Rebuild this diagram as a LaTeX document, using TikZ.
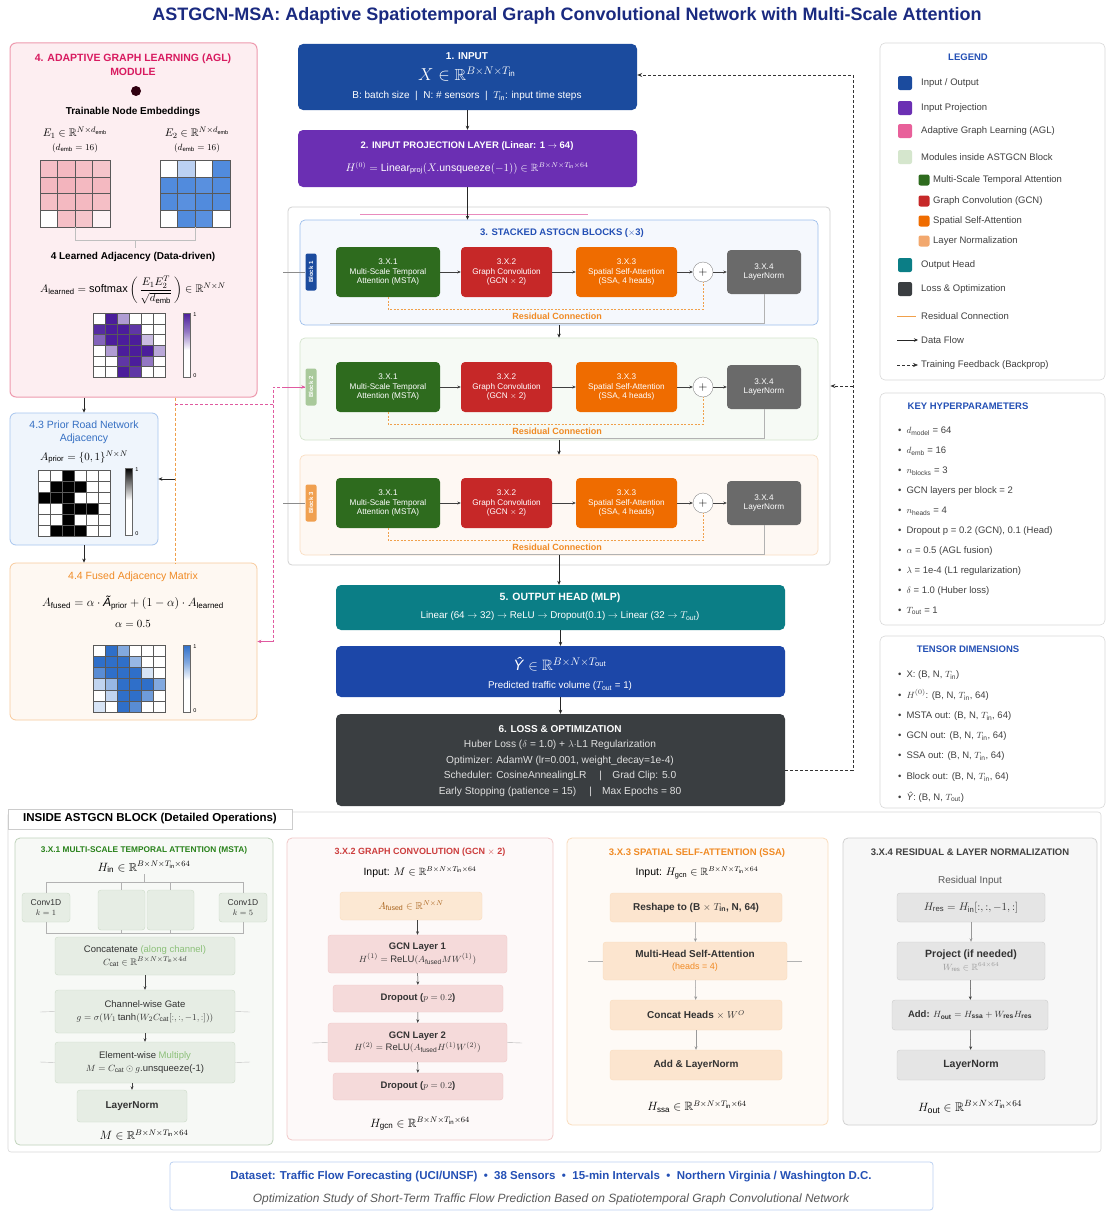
\documentclass[tikz,border=0pt]{standalone}
\usepackage{fontspec}
\setmainfont{Liberation Sans}
\usepackage{amsmath,amssymb}
\usetikzlibrary{arrows.meta,calc}
\definecolor{cTitle}{HTML}{1A2A80}
\definecolor{cIn}{HTML}{1B4B9E}
\definecolor{cProj}{HTML}{6B2FB3}
\definecolor{cAGL}{HTML}{E8609A}
\definecolor{cAGLt}{HTML}{D81B60}
\definecolor{cAGLf}{HTML}{FDEEF1}
\definecolor{cAGLb}{HTML}{EE9AAE}
\definecolor{cMSTA}{HTML}{2E6B1E}
\definecolor{cGCN}{HTML}{C62828}
\definecolor{cSSA}{HTML}{EF6C00}
\definecolor{cLN}{HTML}{6A6A6A}
\definecolor{cLNleg}{HTML}{F2A86E}
\definecolor{cModLeg}{HTML}{D5E6CD}
\definecolor{cHead}{HTML}{0B7E86}
\definecolor{cOut}{HTML}{1C47A8}
\definecolor{cLoss}{HTML}{3A3E41}
\definecolor{cBlueT}{HTML}{2450B5}
\definecolor{cRes}{HTML}{F0A04B}
\definecolor{cPk}{HTML}{E05AA0}
\definecolor{cB2}{HTML}{A9C99B}
\definecolor{cB3}{HTML}{F0A050}
\definecolor{cPinkM}{HTML}{EC8A98}
\definecolor{cBlueM}{HTML}{3C7DD9}
\definecolor{cPurM}{HTML}{4B1D9B}
\definecolor{cFusM}{HTML}{2F6FC9}
\definecolor{cLG}{HTML}{8CC079}
\definecolor{cOr}{HTML}{F08A24}
\newcommand\RR{\mathbb{R}}
\newcommand\tx[1]{\text{#1}}
\newcommand\fs[1]{\fontsize{#1}{#1}\selectfont}
\newcommand\mybox[7]{\node[#6, inner sep=1pt, minimum width={(#4-#2)*1pt}, minimum height={(#5-#3)*1pt}] (#1) at ({(#2+#4)/2},{(#3+#5)/2}) {#7};}
\newcommand\mymatrix[7]{%
  \foreach \v [count=\k from 0] in {#7}{%
    \pgfmathtruncatemacro\mc{mod(\k,#5)}%
    \pgfmathtruncatemacro\mr{div(\k,#5)}%
    \pgfmathtruncatemacro\pc{\v*100}%
    \filldraw[fill=#6!\pc!white, draw=black!65, line width=0.4pt] ({#1+\mc*#3},{#2+\mr*#4}) rectangle ++(#3,#4);
  }}
\tikzset{
  every node/.style={font=\fontsize{9}{11}\selectfont, inner sep=1pt},
  arr/.style={-{Stealth[length=4pt,width=3.5pt]}, line width=0.6pt, draw=black!85},
  sarr/.style={-{Stealth[length=3.5pt,width=3pt]}, line width=0.5pt, draw=black!75},
  fbk/.style={-{Stealth[length=5pt,width=4pt]}, line width=0.8pt, draw=black!80, dash pattern=on 3pt off 2pt},
  resid/.style={draw=cRes, line width=0.6pt, dash pattern=on 2pt off 1.5pt},
  pdash/.style={draw=cPk, line width=0.8pt, dash pattern=on 3pt off 2pt},
  odash/.style={draw=cRes, line width=0.7pt, dash pattern=on 3pt off 2pt},
  panel/.style={draw=black!15, fill=white, rounded corners=5pt, line width=0.6pt},
  big/.style={rounded corners=5pt, text=white, align=center},
  mod/.style={rounded corners=4pt, text=white, align=center, font=\fontsize{8.2}{9.8}\selectfont},
  ibox/.style={rounded corners=3pt, align=center, font=\fontsize{9.5}{12.5}\selectfont, text=black!80},
  legsq/.style={rounded corners=2pt, minimum size=14pt, inner sep=0pt},
  subsq/.style={rounded corners=2pt, minimum size=11pt, inner sep=0pt},
  legtx/.style={anchor=west, text=black!75, font=\fontsize{9.5}{11}\selectfont},
  htx/.style={anchor=west, text=black!75, font=\fontsize{9.5}{11}\selectfont},
  ptitle/.style={font=\bfseries\fontsize{9}{11}\selectfont},
}
\begin{document}
\begin{tikzpicture}[x=1pt,y=-1pt]
\useasboundingbox (0,0) rectangle (1107,1215);
\fill[white] (0,0) rectangle (1107,1215);

% ---------- title
\node[font=\bfseries\fontsize{18}{21}\selectfont, text=cTitle] (title) at (567,16) {ASTGCN-MSA: Adaptive Spatiotemporal Graph Convolutional Network with Multi-Scale Attention};

% ---------- AGL module
\mybox{agl}{10}{43}{257}{397}{draw=cAGLb, fill=cAGLf, rounded corners=6pt, line width=1pt}{}
\node[text=cAGLt, font=\bfseries\fontsize{10.5}{14}\selectfont, align=center] (aglT) at (133,65) {4. ADAPTIVE GRAPH LEARNING (AGL)\\MODULE};
\fill[black!75!purple] (136,91) circle (5);
\node[font=\bfseries\fs{10}] (tne) at (133,112) {Trainable Node Embeddings};
\node[font=\fs{11}] (e1) at (75,133) {$E_1 \in \RR^{N\times d_{\tx{emb}}}$};
\node[font=\fs{9}] (e1b) at (75,148) {$(d_{\tx{emb}}=16)$};
\node[font=\fs{11}] (e2) at (197,133) {$E_2 \in \RR^{N\times d_{\tx{emb}}}$};
\node[font=\fs{9}] (e2b) at (197,148) {$(d_{\tx{emb}}=16)$};
\mymatrix{40}{160}{17.5}{16.75}{4}{cPinkM}{.55,.6,.55,.5,.6,.65,.6,.6,.55,.6,.6,.55,0,.55,.5,.1}
\mymatrix{160}{160}{17.5}{16.75}{4}{cBlueM}{0,.35,0,.9,.9,.9,.85,.9,.9,.85,.9,.9,0,.9,.85,0}
\draw[black!25, line width=0.4pt] (75,227) -- (75,240) -- (195,240) -- (195,227);
\draw[black!25, line width=0.4pt] (135,240) -- (135,248);
\node[font=\bfseries\fs{10}] (lad) at (133,257) {4 Learned Adjacency (Data-driven)};
\node[font=\fs{11}, inner sep=0pt] (ladf) at (133,290) {$A_{\tx{learned}} = \mathrm{softmax}\left(\,\dfrac{E_1E_2^{T}\rule[-3pt]{0pt}{3pt}}{\rule{0pt}{10pt}\sqrt{d_{\tx{emb}}}}\,\right) \in \RR^{N\times N}$};
\mymatrix{93}{313}{12}{10.7}{6}{cPurM}{0,1,.45,0,0,0,.95,1,1,.9,0,0,.7,1,1,1,.3,0,0,.45,1,1,1,.4,0,0,.9,1,.6,0,0,0,1,.9,0,0}
\shade[top color=cPurM, bottom color=white, middle color=cPurM!60] (183,313) rectangle (190,350);
\fill[white] (183,350) rectangle (190,377);
\draw[black!60, line width=0.4pt] (183,313) rectangle (190,377);
\node[font=\fs{5.5}] (cb1a) at (195,315) {1};
\node[font=\fs{5.5}] (cb1b) at (195,376) {0};

% ---------- 4.3 prior
\mybox{prior}{10}{413}{158}{545}{draw=cBlueM!45, fill=cBlueM!8, rounded corners=6pt, line width=0.8pt}{}
\node[text=cBlueM!90!black, align=center, font=\fontsize{10.5}{13}\selectfont] (priorT) at (84,432) {4.3 Prior Road Network\\Adjacency};
\node[font=\fs{11}] (priorF) at (84,457) {$A_{\tx{prior}} = \{0,1\}^{N\times N}$};
\mymatrix{38}{470}{12}{11}{6}{black}{0,0,1,0,0,0,0,1,1,1,0,0,1,1,1,0,0,0,0,0,1,1,1,0,0,0,1,0,0,0,0,1,1,1,0,0}
\shade[top color=black, bottom color=white] (125,468) rectangle (132,500);
\fill[white] (125,500) rectangle (132,535);
\draw[black!60, line width=0.4pt] (125,468) rectangle (132,535);
\node[font=\fs{5.5}] (cb2a) at (137,470) {1};
\node[font=\fs{5.5}] (cb2b) at (137,534) {0};

% ---------- 4.4 fused
\mybox{fused}{10}{563}{257}{720}{draw=cOr!45, fill=cOr!6, rounded corners=6pt, line width=0.8pt}{}
\node[text=cOr, font=\fs{10.5}] (fusedT) at (133,577) {4.4 Fused Adjacency Matrix};
\node[font=\fs{12}, inner sep=0pt] (fusedF) at (133,603) {$A_{\tx{fused}} = \alpha\cdot\text{\itshape Ã}_{\tx{prior}} + (1-\alpha)\cdot A_{\tx{learned}}$};
\node[font=\fs{11}, inner sep=0pt] (alph) at (133,624) {$\alpha = 0.5$};
\mymatrix{93}{645}{12}{11.2}{6}{cFusM}{0,1,.6,0,0,0,1,1,1,.5,0,0,.8,1,1,1,.2,0,.3,.5,1,1,1,.6,0,.3,1,1,.7,0,.2,0,1,.8,0,0}
\shade[top color=cFusM, bottom color=white, middle color=cFusM!60] (183,645) rectangle (190,680);
\fill[white] (183,680) rectangle (190,712);
\draw[black!60, line width=0.4pt] (183,645) rectangle (190,712);
\node[font=\fs{5.5}] (cb3a) at (195,647) {1};
\node[font=\fs{5.5}] (cb3b) at (195,711) {0};

% ---------- input and projection
\mybox{inp}{298}{44}{637}{110}{big, fill=cIn}{}
\node[text=white, font=\bfseries\fs{10}] (inpT) at (467,56) {1. INPUT};
\node[text=white, font=\fs{16}] (inpF) at (467,74) {$X \in \RR^{B\times N\times T_{\tx{in}}}$};
\node[text=white, font=\fs{10}] (inpS) at (467,96) {B: batch size \;|\; N: \# sensors \;|\; $T_{\tx{in}}$: input time steps};

\mybox{proj}{298}{130}{637}{187}{big, fill=cProj}{}
\node[text=white, font=\bfseries\fs{9.5}] (projT) at (467,146) {2. INPUT PROJECTION LAYER (Linear: 1 $\rightarrow$ 64)};
\node[text=white, font=\fs{10.5}] (projF) at (467,168) {$H^{(0)} = \mathrm{Linear}_{\tx{proj}}(X.\tx{unsqueeze}(-1)) \in \RR^{B\times N\times T_{\tx{in}}\times 64}$};

% ---------- stacked blocks
\mybox{stack}{288}{207}{830}{565}{draw=black!18, fill=white, rounded corners=4pt, line width=0.8pt}{}
\mybox{blk1}{300}{220}{818}{325}{draw=cBlueM!50, fill=cBlueM!5, rounded corners=5pt, line width=0.7pt}{}
\mybox{blk2}{300}{338}{818}{440}{draw=cB2!50, fill=cB2!10, rounded corners=5pt, line width=0.7pt}{}
\mybox{blk3}{300}{455}{818}{555}{draw=cB3!35, fill=cB3!7, rounded corners=5pt, line width=0.7pt}{}
\node[text=cBlueT, font=\bfseries\fs{9.5}] (stT) at (562,233) {3. STACKED ASTGCN BLOCKS ($\times$3)};
\draw[draw=cPk!70, line width=0.6pt] (360,214) -- (588,214);

\foreach \yc/\lab/\lc in {272/1/cIn, 387/2/cB2, 503/3/cB3}{
  \node[fill=\lc, rounded corners=2pt, rotate=90, text=white, font=\bfseries\fs{6}, minimum width=37pt, minimum height=11pt, inner sep=0pt] (bl\lab) at (311,\yc) {Block \lab};
  \node[mod, fill=cMSTA, minimum width=104pt, minimum height=50pt] (msta\lab) at (388,\yc) {3.X.1\\Multi-Scale Temporal\\Attention (MSTA)};
  \node[mod, fill=cGCN, minimum width=91pt, minimum height=50pt] (gcn\lab) at (506.5,\yc) {3.X.2\\Graph Convolution\\(GCN $\times$ 2)};
  \node[mod, fill=cSSA, minimum width=101pt, minimum height=50pt] (ssa\lab) at (626.5,\yc) {3.X.3\\Spatial Self-Attention\\(SSA, 4 heads)};
  \node[circle, draw=black!45, fill=white, minimum size=20pt, inner sep=0pt, font=\bfseries\fs{12}] (plus\lab) at (703,\yc) {$+$};
  \node[mod, fill=cLN, minimum width=74pt, minimum height=44pt] (ln\lab) at (764,\yc) {3.X.4\\LayerNorm};
  \draw[sarr] (msta\lab) -- (gcn\lab);
  \draw[sarr] (gcn\lab) -- (ssa\lab);
  \draw[sarr] (ssa\lab) -- (plus\lab);
  \draw[sarr] (plus\lab) -- (ln\lab);
  \draw[resid] (msta\lab.south) -- ++(0,12) -| (plus\lab.south);
  \node[text=cOr, font=\bfseries\fs{9}] (rc\lab) at (557,\yc+44) {Residual Connection};
  \draw[black!30, line width=0.5pt] (ln\lab.south) -- (764,\yc+51) -- (330,\yc+51);
}
\coordinate (bus1) at (283,272);
\coordinate (bus3) at (283,503);
\draw[black!45, line width=0.5pt] (bus1) -- (bl1.north);
\draw[black!45, line width=0.5pt] (bus3) -- (bl3.north);
\draw[arr] (inp) -- (proj);
\draw[arr] (proj.south) -- (proj.south |- blk1.north);
\draw[arr] (blk1) -- (blk2);
\draw[arr] (blk2) -- (blk3);

% ---------- head, output, loss
\mybox{head}{336}{585}{785}{630}{big, fill=cHead}{}
\node[text=white, font=\bfseries\fs{10.5}] (headT) at (560,598) {5. OUTPUT HEAD (MLP)};
\node[text=white, font=\fs{9.8}] (headS) at (560,616) {Linear (64 $\rightarrow$ 32) $\rightarrow$ ReLU $\rightarrow$ Dropout(0.1) $\rightarrow$ Linear (32 $\rightarrow$ $T_{\tx{out}}$)};
\mybox{yout}{336}{646}{785}{697}{big, fill=cOut}{}
\node[text=white, font=\fs{15}] (youtF) at (560,664) {\textit{Ŷ} $\in \RR^{B\times N\times T_{\tx{out}}}$};
\node[text=white, font=\fs{9.8}] (youtS) at (560,686) {Predicted traffic volume ($T_{\tx{out}}$ = 1)};
\mybox{loss}{336}{714}{785}{806}{big, fill=cLoss}{}
\node[text=white, font=\bfseries\fs{10}] (lossT) at (560,729) {6. LOSS \& OPTIMIZATION};
\node[text=white!88!black, font=\fs{10.2}] (lossA) at (560,745) {Huber Loss ($\delta$ = 1.0) + $\lambda\cdot$L1 Regularization};
\node[text=white!88!black, font=\fs{10.2}] (lossB) at (560,761) {Optimizer: AdamW (lr=0.001, weight\_decay=1e-4)};
\node[text=white!88!black, font=\fs{10.2}] (lossC) at (560,776) {Scheduler: CosineAnnealingLR \quad|\quad Grad Clip: 5.0};
\node[text=white!88!black, font=\fs{10.2}] (lossD) at (560,792) {Early Stopping (patience = 15) \quad|\quad Max Epochs = 80};
\draw[arr] (blk3.south) -- (blk3.south |- head.north);
\draw[arr] (head) -- (yout);
\draw[arr] (yout) -- (loss);

% feedback
\draw[fbk] ([yshift=-10pt]loss.east) -- (853,770) |- ([yshift=2pt]inp.east);
\draw[fbk] (853,386) -- (stack.east);

% ---------- left connectors
\coordinate (lj) at (175,404);
\coordinate (pj2) at (273,404);
\draw[arr] (agl.south -| prior.north) -- (prior.north);
\draw[arr] (prior.south) -- (prior.south |- fused.north);
\draw[odash] (agl.south -| lj) -- (fused.north -| lj);
\draw[arr] (lj |- prior.east) -- (prior.east);
\draw[pdash] (lj) -- (pj2);
\draw[pdash] (bl2.north) -- (273,387) -- (273,641.5);
\draw[arr, draw=cPk] (273,641.5) -- (fused.east);
\draw[arr, draw=cPk] (283,387) -- (bl2.north);

% ---------- legend
\mybox{leg}{880}{43}{1105}{380}{panel}{}
\node[text=cBlueT, font=\bfseries\fs{9.5}] (legT) at (968,57) {LEGEND};
\node[legsq, fill=cIn] (q1) at (905,83) {}; \node[legtx] (q1t) at (920,83) {Input / Output};
\node[legsq, fill=cProj] (q2) at (905,108) {}; \node[legtx] (q2t) at (920,108) {Input Projection};
\node[legsq, fill=cAGL] (q3) at (905,131) {}; \node[legtx] (q3t) at (920,131) {Adaptive Graph Learning (AGL)};
\node[legsq, fill=cModLeg] (q4) at (905,157) {}; \node[legtx] (q4t) at (920,157) {Modules inside ASTGCN Block};
\node[subsq, fill=cMSTA] (q5) at (924,180) {}; \node[legtx] (q5t) at (932,180) {Multi-Scale Temporal Attention};
\node[subsq, fill=cGCN] (q6) at (924,201) {}; \node[legtx] (q6t) at (932,201) {Graph Convolution (GCN)};
\node[subsq, fill=cSSA] (q7) at (924,221) {}; \node[legtx] (q7t) at (932,221) {Spatial Self-Attention};
\node[subsq, fill=cLNleg] (q8) at (924,241) {}; \node[legtx] (q8t) at (932,241) {Layer Normalization};
\node[legsq, fill=cHead] (q9) at (905,265) {}; \node[legtx] (q9t) at (920,265) {Output Head};
\node[legsq, fill=cLoss] (q10) at (905,289) {}; \node[legtx] (q10t) at (920,289) {Loss \& Optimization};
\coordinate (r1) at (897,316); \coordinate (r2) at (916,316);
\draw[draw=cRes, line width=0.7pt] (r1) -- (r2); \node[legtx] (q11t) at (920,316) {Residual Connection};
\coordinate (d1) at (897,340); \coordinate (d2) at (918,340);
\draw[arr] (d1) -- (d2); \node[legtx] (q12t) at (920,340) {Data Flow};
\coordinate (f1) at (897,365); \coordinate (f2) at (918,365);
\draw[fbk, line width=0.6pt] (f1) -- (f2); \node[legtx] (q13t) at (920,365) {Training Feedback (Backprop)};

% ---------- hyperparameters
\mybox{hyp}{880}{393}{1105}{625}{panel}{}
\node[text=cBlueT, font=\bfseries\fs{9.5}] (hypT) at (968,406) {KEY HYPERPARAMETERS};
\foreach \yy/\tt [count=\n] in {431/{$d_{\tx{model}}$ = 64}, 451/{$d_{\tx{emb}}$ = 16}, 471/{$n_{\tx{blocks}}$ = 3}, 491/{GCN layers per block = 2}, 511/{$n_{\tx{heads}}$ = 4}, 531/{Dropout p = 0.2 (GCN), 0.1 (Head)}, 551/{$\alpha$ = 0.5 (AGL fusion)}, 571/{$\lambda$ = 1e-4 (L1 regularization)}, 591/{$\delta$ = 1.0 (Huber loss)}, 611/{$T_{\tx{out}}$ = 1}}{
  \node[htx, inner sep=0pt] (ht\n) at (898,\yy) {•\hspace{5pt}\tt};
}

% ---------- tensor dims
\mybox{ten}{880}{636}{1105}{808}{panel}{}
\node[text=cBlueT, font=\bfseries\fs{9.5}] (tenT) at (968,649) {TENSOR DIMENSIONS};
\foreach \yy/\tt [count=\n] in {675/{X: (B, N, $T_{\tx{in}}$)}, 695/{$H^{(0)}$: (B, N, $T_{\tx{in}}$, 64)}, 716/{MSTA out: (B, N, $T_{\tx{in}}$, 64)}, 736/{GCN out: (B, N, $T_{\tx{in}}$, 64)}, 756/{SSA out: (B, N, $T_{\tx{in}}$, 64)}, 777/{Block out: (B, N, $T_{\tx{in}}$, 64)}, 797/{\textit{Ŷ}: (B, N, $T_{\tx{out}}$)}}{
  \node[htx, inner sep=0pt] (tt\n) at (898,\yy) {•\hspace{5pt}\tt};
}

% ---------- bottom section
\mybox{bot}{8}{812}{1101}{1152}{draw=black!15, fill=white, rounded corners=3pt, line width=0.6pt}{}
\mybox{botT}{8}{809}{292}{829}{draw=black!20, fill=white, line width=0.5pt, font=\bfseries\fs{11.5}}{INSIDE ASTGCN BLOCK (Detailed Operations)}

% MSTA panel
\mybox{pm}{15}{838}{273}{1145}{draw=cMSTA!30, fill=cMSTA!4, rounded corners=5pt, line width=0.8pt}{}
\node[ptitle, font=\bfseries\fs{8.3}, text=cMSTA!85!green] (pmT) at (144,850) {3.X.1 MULTI-SCALE TEMPORAL ATTENTION (MSTA)};
\node[font=\fs{11.5}] (pmIn) at (144,867) {$H_{\tx{in}} \in \RR^{B\times N\times T_{\tx{in}}\times 64}$};
\tikzset{gbox/.style={ibox, draw=cMSTA!25, fill=cMSTA!12}}
\mybox{cv1}{22}{893}{70}{922}{gbox, font=\fontsize{8.5}{10.5}\selectfont}{Conv1D\\$k=1$}
\mybox{cv2}{98}{890}{145}{930}{gbox}{}
\mybox{cv3}{147}{890}{194}{930}{gbox}{}
\mybox{cv4}{219}{893}{267}{922}{gbox, font=\fontsize{8.5}{10.5}\selectfont}{Conv1D\\$k=5$}
\draw[black!30, line width=0.4pt] (pmIn.south) -- (144,882);
\draw[black!30, line width=0.4pt] (cv1.north) |- (144,882) -| (cv4.north);
\draw[black!30, line width=0.4pt] (cv2.north) -- (cv2.north |- 0,882);
\draw[black!30, line width=0.4pt] (cv3.north) -- (cv3.north |- 0,882);
\draw[black!30, line width=0.4pt] (cv1.south) |- (144,933) -| (cv4.south);
\draw[black!30, line width=0.4pt] (cv2.south) -- (cv2.south |- 0,933);
\draw[black!30, line width=0.4pt] (cv3.south) -- (cv3.south |- 0,933);
\mybox{cat}{55}{937}{235}{975}{gbox}{Concatenate \textcolor{cLG}{(along channel)}\\$C_{\tx{cat}} \in \RR^{B\times N\times T_{\tx{in}}\times 4d}$}
\mybox{gate}{55}{990}{235}{1033}{gbox}{Channel-wise Gate\\$g = \sigma(W_1\tanh(W_2C_{\tx{cat}}[:,:,-1,:]))$}
\mybox{mul}{55}{1042}{235}{1083}{gbox}{Element-wise \textcolor{cLG}{Multiply}\\$M = C_{\tx{cat}}\odot g$.unsqueeze(-1)}
\mybox{mln}{77}{1090}{187}{1122}{gbox, font=\bfseries\fs{10}}{LayerNorm}
\node[font=\fs{11.5}] (pmOut) at (144,1135) {$M \in \RR^{B\times N\times T_{\tx{in}}\times 64}$};
\draw[sarr] (cat) -- (gate);
\draw[sarr] (gate) -- (mul);
\draw[sarr] (mul.south -| mln.north) -- (mln.north);
\draw[black!25, line width=0.4pt] (40,1012) -- (gate.west);
\draw[black!25, line width=0.4pt] (gate.east) -- (250,1012);
\draw[black!25, line width=0.4pt] (40,1062) -- (mul.west);
\draw[black!25, line width=0.4pt] (mul.east) -- (250,1062);

% GCN panel
\mybox{pg}{287}{838}{553}{1140}{draw=cGCN!25, fill=cGCN!3, rounded corners=5pt, line width=0.8pt}{}
\node[ptitle, text=cGCN!90] (pgT) at (420,852) {3.X.2 GRAPH CONVOLUTION (GCN $\times$ 2)};
\node[font=\fs{10.5}] (pgIn) at (420,872) {Input: $M \in \RR^{B\times N\times T_{\tx{in}}\times 64}$};
\tikzset{rbox/.style={ibox, draw=cGCN!25, fill=cGCN!17}}
\mybox{afu}{340}{892}{482}{920}{ibox, draw=cOr!30, fill=cOr!20, text=cOr!70!black, font=\fs{10}}{$A_{\tx{fused}} \in \RR^{N\times N}$}
\mybox{g1}{328}{935}{507}{973}{rbox}{\textbf{GCN Layer 1}\\$H^{(1)} = \mathrm{ReLU}(A_{\tx{fused}}MW^{(1)})$}
\mybox{dp1}{333}{985}{503}{1012}{rbox, font=\bfseries\fs{9.5}}{Dropout ($p = 0.2$)}
\mybox{g2}{328}{1023}{507}{1062}{rbox}{\textbf{GCN Layer 2}\\$H^{(2)} = \mathrm{ReLU}(A_{\tx{fused}}H^{(1)}W^{(2)})$}
\mybox{dp2}{333}{1073}{503}{1100}{rbox, font=\bfseries\fs{9.5}}{Dropout ($p = 0.2$)}
\node[font=\fs{12}] (pgOut) at (420,1124) {$H_{\tx{gcn}} \in \RR^{B\times N\times T_{\tx{in}}\times 64}$};
\draw[sarr] (afu.south -| g1.north) -- (g1.north);
\draw[sarr] (g1) -- (dp1);
\draw[sarr] (dp1) -- (g2);
\draw[sarr] (g2) -- (dp2);
\draw[black!30, line width=0.4pt] (312,1043) -- (g2.west);
\draw[black!30, line width=0.4pt] (g2.east) -- (522,1043);

% SSA panel
\mybox{ps}{567}{838}{828}{1125}{draw=cOr!30, fill=cOr!4, rounded corners=5pt, line width=0.8pt}{}
\node[ptitle, font=\bfseries\fs{9.5}, text=cOr] (psT) at (697,853) {3.X.3 SPATIAL SELF-ATTENTION (SSA)};
\node[font=\fs{10.5}] (psIn) at (697,873) {Input: $H_{\tx{gcn}} \in \RR^{B\times N\times T_{\tx{in}}\times 64}$};
\tikzset{obox/.style={ibox, draw=cOr!30, fill=cOr!22, font=\bfseries\fontsize{10}{12.5}\selectfont}}
\mybox{rs}{610}{893}{782}{922}{obox}{Reshape to (B $\times$ $T_{\tx{in}}$, N, 64)}
\mybox{mh}{603}{942}{787}{980}{obox}{Multi-Head Self-Attention\\{\mdseries\fs{9}\textcolor{cOr}{(heads = 4)}}}
\mybox{ch}{610}{1000}{782}{1030}{obox}{Concat Heads $\times$ $W^{O}$}
\mybox{al}{610}{1050}{782}{1080}{obox}{Add \& LayerNorm}
\node[font=\fs{12}] (psOut) at (697,1107) {$H_{\tx{ssa}} \in \RR^{B\times N\times T_{\tx{in}}\times 64}$};
\draw[sarr, draw=black!40] (rs) -- (mh);
\draw[sarr, draw=black!40] (mh) -- (ch);
\draw[sarr, draw=black!40] (ch) -- (al);
\draw[black!30, line width=0.4pt] (588,961) -- (mh.west);
\draw[black!30, line width=0.4pt] (mh.east) -- (802,961);

% Residual panel
\mybox{pr}{843}{838}{1097}{1125}{draw=black!18, fill=black!3, rounded corners=5pt, line width=0.8pt}{}
\node[ptitle, font=\bfseries\fs{9.5}, text=black!75] (prT) at (970,852) {3.X.4 RESIDUAL \& LAYER NORMALIZATION};
\node[font=\fs{10}, text=black!65] (prIn) at (970,881) {Residual Input};
\tikzset{kbox/.style={ibox, draw=black!20, fill=black!10}}
\mybox{hr}{897}{893}{1045}{922}{kbox, font=\fs{11}}{$H_{\tx{res}} = H_{\tx{in}}[:,:,-1,:]$}
\mybox{pjb}{897}{942}{1045}{980}{kbox, font=\fontsize{10.5}{13}\selectfont}{\textbf{Project (if needed)}\\{\fs{9}\textcolor{black!40}{$W_{\tx{res}} \in \RR^{64\times 64}$}}}
\mybox{ad}{892}{1000}{1048}{1030}{kbox, font=\bfseries\fs{9.5}}{Add: $H_{\tx{out}} = H_{\tx{ssa}} + W_{\tx{res}}H_{\tx{res}}$}
\mybox{rl}{897}{1050}{1045}{1080}{kbox, font=\bfseries\fs{10.5}}{LayerNorm}
\node[font=\fs{12.5}] (prOut) at (970,1107) {$H_{\tx{out}} \in \RR^{B\times N\times T_{\tx{in}}\times 64}$};
\draw[sarr, draw=black!40] (hr) -- (pjb);
\draw[sarr] (pjb) -- (ad);
\draw[sarr] (ad) -- (rl);

% ---------- footer
\mybox{foot}{170}{1162}{933}{1210}{draw=cBlueM!35, fill=white, rounded corners=3pt, line width=0.8pt}{}
\node[text=cBlueT, font=\bfseries\fs{11.5}] (footA) at (551,1177) {Dataset: Traffic Flow Forecasting (UCI/UNSF) \ \textbullet\ \ 38 Sensors \ \textbullet\ \ 15-min Intervals \ \textbullet\ \ Northern Virginia / Washington D.C.};
\node[text=black!65, font=\itshape\fs{12}] (footB) at (551,1199) {Optimization Study of Short-Term Traffic Flow Prediction Based on Spatiotemporal Graph Convolutional Network};
\end{tikzpicture}
\end{document}
